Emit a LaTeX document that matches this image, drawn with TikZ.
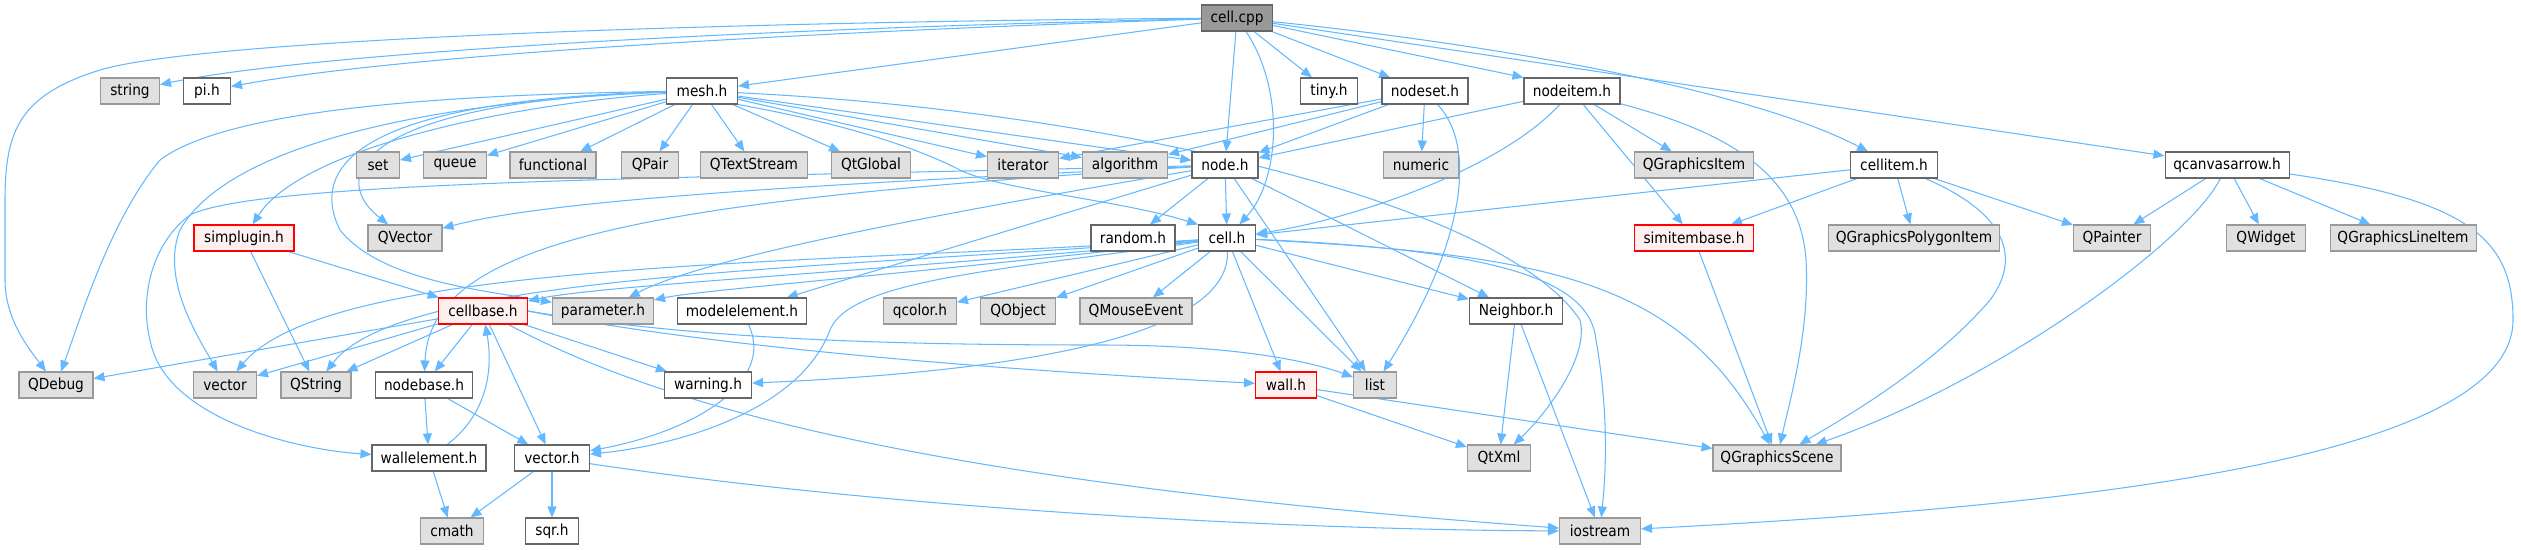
\documentclass[tikz,border=0pt]{standalone}
\usepackage{fontspec}
\setmainfont{DejaVu Sans}[FakeStretch=0.9]
\usepackage{tikz}
\usetikzlibrary{arrows.meta}

\definecolor{incblue}{HTML}{63B8FF}
\definecolor{sysfill}{HTML}{E0E0E0}
\definecolor{sysdraw}{HTML}{999999}
\definecolor{hdrdraw}{HTML}{666666}
\definecolor{redfill}{HTML}{FFF0F0}

\pgfdeclarelayer{background}
\pgfsetlayers{background,main}

\begin{document}
\begin{tikzpicture}[x=0.03cm, y=-0.03cm,
    box/.style={rectangle, inner sep=0pt, minimum height=0.78cm, line width=0.9pt,
      font=\fontsize{13}{15}\selectfont},
    wd/.style={minimum width=#1*0.03cm},
    hdr/.style={box, draw=hdrdraw, fill=white},
    sys/.style={box, draw=sysdraw, fill=sysfill},
    redhdr/.style={box, draw=red, fill=redfill},
    srcfile/.style={box, draw=hdrdraw, fill=sysdraw},
    incl/.style={draw=incblue, line width=0.9pt, -{Triangle[length=0.33cm, width=0.27cm]}}]
    \useasboundingbox (0,0) rectangle (2521,549);

    % Row 0
    \node[srcfile, wd=71] (cellcpp) at (1237,18) {cell.cpp};

    % Row 1
    \node[sys, wd=59] (string) at (130,91) {string};
    \node[hdr, wd=47] (pih) at (207,91) {pi.h};
    \node[hdr, wd=71] (meshh) at (702,91) {mesh.h};
    \node[hdr, wd=57] (tinyh) at (1329,91) {tiny.h};
    \node[hdr, wd=86] (nodeseth) at (1425,91) {nodeset.h};
    \node[hdr, wd=96] (nodeitemh) at (1572,91) {nodeitem.h};

    % Row 2
    \node[sys, wd=43] (set) at (378,165) {set};
    \node[sys, wd=63] (queue) at (455,165) {queue};
    \node[sys, wd=86] (functional) at (553,165) {functional};
    \node[sys, wd=57] (QPair) at (650,165) {QPair};
    \node[sys, wd=107] (QTextStream) at (754,165) {QTextStream};
    \node[sys, wd=79] (QtGlobal) at (871,165) {QtGlobal};
    \node[sys, wd=71] (iterator) at (1023,165) {iterator};
    \node[sys, wd=85] (algorithm) at (1125,165) {algorithm};
    \node[hdr, wd=66] (nodeh) at (1225,165) {node.h};
    \node[sys, wd=75] (numeric) at (1421,165) {numeric};
    \node[sys, wd=119] (QGraphicsItem) at (1694,165) {QGraphicsItem};
    \node[hdr, wd=87] (cellitemh) at (1894,165) {cellitem.h};
    \node[hdr, wd=124] (qcanvasarrowh) at (2227,165) {qcanvasarrow.h};

    % Row 3
    \node[redhdr, wd=100] (simpluginh) at (244,238) {simplugin.h};
    \node[sys, wd=74] (QVector) at (405,238) {QVector};
    \node[hdr, wd=84] (randomh) at (1133,238) {random.h};
    \node[hdr, wd=57] (cellh) at (1227,238) {cell.h};
    \node[redhdr, wd=119] (simitembaseh) at (1694,238) {simitembase.h};
    \node[sys, wd=171] (QGraphicsPolygonItem) at (1914,238) {QGraphicsPolygonItem};
    \node[sys, wd=77] (QPainter) at (2112,238) {QPainter};
    \node[sys, wd=79] (QWidget) at (2266,238) {QWidget};
    \node[sys, wd=146] (QGraphicsLineItem) at (2403,238) {QGraphicsLineItem};

    % Row 4
    \node[redhdr, wd=89] (cellbaseh) at (483,311) {cellbase.h};
    \node[sys, wd=101] (parameterh) at (603,311) {parameter.h};
    \node[hdr, wd=129] (modelelementh) at (742,311) {modelelement.h};
    \node[sys, wd=73] (qcolorh) at (920,311) {qcolor.h};
    \node[sys, wd=75] (QObject) at (1018,311) {QObject};
    \node[sys, wd=112] (QMouseEvent) at (1136,311) {QMouseEvent};
    \node[hdr, wd=93] (Neighborh) at (1516,311) {Neighbor.h};

    % Row 5
    \node[sys, wd=74] (QDebug) at (56,385) {QDebug};
    \node[sys, wd=63] (vector) at (225,385) {vector};
    \node[sys, wd=70] (QString) at (316,385) {QString};
    \node[hdr, wd=97] (nodebaseh) at (424,385) {nodebase.h};
    \node[hdr, wd=87] (warningh) at (708,385) {warning.h};
    \node[redhdr, wd=61] (wallh) at (1286,385) {wall.h};
    \node[sys, wd=43] (list) at (1375,385) {list};

    % Row 6
    \node[hdr, wd=114] (wallelementh) at (429,458) {wallelement.h};
    \node[hdr, wd=75] (vectorh) at (552,458) {vector.h};
    \node[sys, wd=63] (QtXml) at (1499,458) {QtXml};
    \node[sys, wd=128] (QGraphicsScene) at (1777,458) {QGraphicsScene};

    % Row 7
    \node[sys, wd=63] (cmath) at (452,531) {cmath};
    \node[hdr, wd=53] (sqrh) at (552,531) {sqr.h};
    \node[sys, wd=81] (iostream) at (1600,531) {iostream};

    \begin{pgfonlayer}{background}
    % cell.cpp
    \draw[incl] (cellcpp) .. controls (700,30) and (300,55) .. (string);
    \draw[incl] (cellcpp) .. controls (800,32) and (400,55) .. (pih);
    \draw[incl] (cellcpp) .. controls (700,22) and (200,40) .. (100,70)
      .. controls (20,95) and (5,130) .. (5,200) -- (5,280)
      .. controls (5,320) and (30,350) .. (QDebug);
    \draw[incl] (cellcpp) -- (meshh);
    \draw[incl] (cellcpp) -- (tinyh);
    \draw[incl] (cellcpp) -- (nodeseth);
    \draw[incl] (cellcpp) -- (nodeitemh.north west);
    \draw[incl] (cellcpp) .. controls (1500,45) and (1750,90) .. (cellitemh);
    \draw[incl] (cellcpp) -- (qcanvasarrowh);
    \draw[incl] (cellcpp) -- (nodeh);
    \draw[incl] (cellcpp) .. controls (1285,90) and (1280,180) .. (cellh);

    % mesh.h
    \foreach \t in {set,queue,functional,QPair,QTextStream,QtGlobal,iterator,algorithm,nodeh}
      \draw[incl] (meshh) -- (\t);
    \draw[incl] (meshh.south east) .. controls (880,130) and (940,160) .. (960,170)
      .. controls (1000,190) and (1120,200) .. (cellh.north west);
    \draw[incl] (meshh) .. controls (400,95) and (220,115) .. (160,160)
      .. controls (110,220) and (80,320) .. (QDebug);
    \draw[incl] (meshh) .. controls (450,100) and (230,140) .. (180,230)
      .. controls (160,280) and (200,340) .. (vector);
    \draw[incl] (meshh) .. controls (500,105) and (300,150) .. (simpluginh);
    \draw[incl] (meshh) .. controls (380,100) and (320,170) .. (QVector);
    \draw[incl] (meshh) .. controls (350,100) and (310,170) .. (340,230)
      .. controls (380,280) and (480,290) .. (parameterh);
    \draw[incl] (meshh) .. controls (1100,110) and (1500,200) .. (1580,320)
      .. controls (1590,360) and (1540,420) .. (QtXml);

    % nodeset.h, nodeitem.h
    \foreach \t in {iterator,algorithm,nodeh,numeric}
      \draw[incl] (nodeseth) -- (\t);
    \draw[incl] (nodeseth) .. controls (1480,150) and (1460,250) .. (list);
    \foreach \t in {nodeh,QGraphicsItem,simitembaseh}
      \draw[incl] (nodeitemh) -- (\t);
    \draw[incl] (nodeitemh) .. controls (1500,170) and (1350,220) .. (cellh);
    \draw[incl] (nodeitemh) .. controls (1720,130) and (1800,170) .. (1806,260)
      .. controls (1810,330) and (1790,400) .. (QGraphicsScene);

    % cellitem.h, qcanvasarrow.h
    \foreach \t in {cellh,simitembaseh,QGraphicsPolygonItem,QPainter}
      \draw[incl] (cellitemh) -- (\t);
    \draw[incl] (cellitemh) .. controls (2010,215) and (2020,260) .. (1990,300)
      .. controls (1930,370) and (1840,420) .. (QGraphicsScene);
    \foreach \t in {QPainter,QWidget,QGraphicsLineItem}
      \draw[incl] (qcanvasarrowh) -- (\t);
    \draw[incl] (qcanvasarrowh) .. controls (2190,240) and (2000,380) .. (QGraphicsScene);
    \draw[incl] (qcanvasarrowh) .. controls (2470,200) and (2513,240) .. (2513,320)
      .. controls (2513,470) and (2000,510) .. (iostream);

    % node.h
    \foreach \t in {randomh,cellh,modelelementh,list,Neighborh}
      \draw[incl] (nodeh) -- (\t);
    \draw[incl] (nodeh) .. controls (800,185) and (550,200) .. (QVector);
    \draw[incl] (nodeh) .. controls (650,200) and (430,240) .. (nodebaseh);
    \draw[incl] (nodeh) .. controls (900,220) and (700,260) .. (parameterh);
    \draw[incl] (nodeh) .. controls (700,178) and (260,180) .. (190,215)
      .. controls (150,245) and (140,300) .. (150,340)
      .. controls (165,420) and (300,450) .. (wallelementh);

    % cell.h
    \foreach \t in {qcolorh,QObject,QMouseEvent,wallh,list,Neighborh}
      \draw[incl] (cellh) -- (\t);
    \draw[incl] (cellh) .. controls (900,270) and (600,285) .. (cellbaseh);
    \draw[incl] (cellh) .. controls (900,275) and (700,290) .. (parameterh);
    \draw[incl] (cellh) .. controls (800,265) and (330,260) .. (vector);
    \draw[incl] (cellh) .. controls (800,270) and (400,275) .. (QString);
    \draw[incl] (cellh) .. controls (1000,270) and (850,280) .. (830,330)
      .. controls (800,410) and (680,445) .. (vectorh);
    \draw[incl] (cellh) .. controls (1230,330) and (1050,370) .. (warningh);
    \draw[incl] (cellh) .. controls (1500,250) and (1590,280) .. (1596,340)
      .. controls (1610,420) and (1605,480) .. (iostream);
    \draw[incl] (cellh) .. controls (1550,255) and (1680,280) .. (QGraphicsScene);

    % simplugin.h, simitembase.h
    \draw[incl] (simpluginh) -- (cellbaseh);
    \draw[incl] (simpluginh) -- (QString);
    \draw[incl] (simitembaseh) -- (QGraphicsScene);

    % cellbase.h
    \foreach \t in {QDebug,vector,QString,nodebaseh,warningh,vectorh}
      \draw[incl] (cellbaseh) -- (\t);
    \draw[incl] (cellbaseh.east) .. controls (700,340) and (900,345) .. (1100,345)
      .. controls (1250,345) and (1320,365) .. (list);
    \draw[incl] (cellbaseh.east) .. controls (750,355) and (1100,375) .. (wallh);
    \draw[incl] (cellbaseh) .. controls (650,400) and (900,480) .. (iostream);

    % lower headers
    \draw[incl] (modelelementh) .. controls (775,380) and (700,430) .. (vectorh);
    \draw[incl] (nodebaseh) -- (wallelementh);
    \draw[incl] (nodebaseh) -- (vectorh);
    \draw[incl] (wallelementh) .. controls (480,420) and (495,380) .. (cellbaseh);
    \draw[incl] (wallelementh) -- (cmath);
    \draw[incl] (vectorh) -- (cmath);
    \draw[incl] (vectorh) -- (sqrh);
    \draw[incl] (vectorh) .. controls (900,510) and (1300,530) .. (iostream);
    \draw[incl] (wallh) -- (QtXml);
    \draw[incl] (wallh) -- (QGraphicsScene);
    \draw[incl] (Neighborh) -- (QtXml);
    \draw[incl] (Neighborh) -- (iostream);
    \end{pgfonlayer}
\end{tikzpicture}
\end{document}
